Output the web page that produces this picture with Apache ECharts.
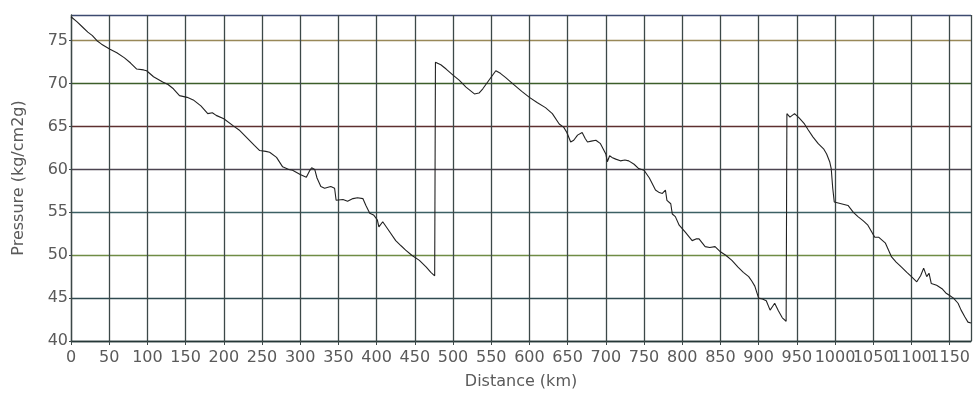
<!DOCTYPE html>
<html>
<head>
<meta charset="utf-8">
<script src="https://cdn.jsdelivr.net/npm/echarts@6/dist/echarts.min.js"></script>
<style>
html,body{margin:0;padding:0;background:#fff;}
#chart{width:973px;height:408px;}
</style>
</head>
<body>
<div id="chart"></div>
<script>
// Distance along pipeline (km)
const distanceKm = [
  0, 8, 15, 22, 28, 34, 40, 51, 60, 70, 78, 86, 95, 99, 108, 120, 127, 134, 142, 152,
  160, 170, 179, 185, 190, 200, 212, 220, 230, 240, 247, 255, 260, 269, 277, 285, 290, 300, 308, 312,
  315, 319, 322, 327, 332, 340, 345, 347, 356, 362, 369, 375, 382, 386, 391, 396, 401, 403, 408, 415,
  425, 432, 438, 446, 456, 465, 471, 476,
  477, 484, 491, 500, 508, 517, 528, 534, 539, 547, 556, 562, 569, 578, 590, 600, 610, 621, 630, 639,
  645, 649, 654, 658, 663, 669, 673, 676, 681, 687, 693, 700, 702, 705, 708, 713, 719, 725, 730, 737,
  743, 750, 757, 765, 770, 774, 778, 780, 785, 787, 791, 796, 800, 804, 813, 818, 822, 830, 836, 843,
  850, 857, 865, 873, 880, 887, 891, 895, 900, 905, 910, 915, 918, 921, 926, 931, 936,
  937, 941, 947, 953, 960, 965, 971, 978, 985, 989, 993, 995, 997, 999, 1008, 1017, 1024, 1030, 1037, 1043,
  1052, 1057, 1066, 1074, 1080, 1087, 1094, 1100, 1107, 1112, 1116, 1120, 1123, 1126, 1133, 1140, 1145, 1150, 1155, 1161,
  1165, 1170, 1174, 1178
];
// Pressure (kg/cm2g)
const pressure = [
  77.8, 77.2, 76.6, 76.0, 75.6, 75.0, 74.6, 74.0, 73.6, 73.0, 72.4, 71.7, 71.6, 71.5, 70.8, 70.2, 69.9, 69.4, 68.6, 68.4,
  68.1, 67.4, 66.5, 66.6, 66.3, 65.9, 65.1, 64.6, 63.7, 62.8, 62.2, 62.1, 62.0, 61.4, 60.3, 60.0, 59.9, 59.4, 59.1, 59.8,
  60.2, 60.0, 59.0, 58.0, 57.8, 58.0, 57.8, 56.4, 56.5, 56.3, 56.6, 56.7, 56.6, 55.8, 54.9, 54.7, 54.1, 53.3, 53.9, 53.0,
  51.7, 51.1, 50.6, 50.0, 49.4, 48.6, 48.0, 47.6,
  72.5, 72.2, 71.7, 71.0, 70.4, 69.6, 68.8, 68.9, 69.4, 70.4, 71.5, 71.2, 70.7, 70.0, 69.1, 68.4, 67.8, 67.2, 66.5, 65.3,
  64.9, 64.3, 63.2, 63.4, 64.0, 64.3, 63.6, 63.2, 63.3, 63.4, 63.0, 61.8, 60.9, 61.6, 61.4, 61.2, 61.0, 61.1, 61.0, 60.6,
  60.1, 59.9, 59.0, 57.6, 57.3, 57.2, 57.6, 56.4, 56.0, 54.8, 54.5, 53.5, 53.1, 52.7, 51.7, 51.9, 51.9, 51.0, 50.9, 51.0,
  50.4, 50.0, 49.4, 48.6, 48.0, 47.5, 47.0, 46.4, 45.0, 44.9, 44.7, 43.6, 44.0, 44.4, 43.5, 42.7, 42.3,
  66.5, 66.1, 66.5, 66.0, 65.3, 64.6, 63.8, 63.0, 62.4, 61.8, 60.9, 60.1, 57.8, 56.2, 56.0, 55.8, 55.0, 54.5, 54.0, 53.5,
  52.1, 52.1, 51.4, 49.8, 49.2, 48.6, 48.0, 47.5, 46.9, 47.6, 48.5, 47.5, 47.9, 46.7, 46.5, 46.1, 45.6, 45.3, 45.0, 44.4,
  43.6, 42.8, 42.2, 42.1
];
const xAxisTitle = 'Distance (km)';
const yAxisTitle = 'Pressure (kg/cm2g)';

const seriesData = distanceKm.map((d, i) => [d, pressure[i]]);
const FONT = 'DejaVu Sans';

const chart = echarts.init(document.getElementById('chart'), null, {renderer: 'canvas'});
chart.setOption({
  animation: false,
  backgroundColor: '#ffffff',
  grid: {left: 71, right: 0, top: 15, bottom: 67, containLabel: false},
  xAxis: {
    type: 'value',
    min: 0, max: 1178, interval: 50,
    name: xAxisTitle, nameLocation: 'middle', nameGap: 33,
    nameTextStyle: {color: '#5a5a5a', fontFamily: FONT, fontSize: 16},
    axisLine: {show: true, lineStyle: {color: '#263838', width: 1.3}},
    axisTick: {show: true, length: 4, lineStyle: {color: '#3c4848'}},
    axisLabel: {
      color: '#5a5a5a', fontFamily: FONT, fontSize: 16, margin: 9,
      showMaxLabel: false,
      formatter: v => (v % 50 === 0 ? String(v) : '')
    },
    splitLine: {show: true, lineStyle: {color: '#3c4848', width: 1.3}}
  },
  yAxis: {
    type: 'value',
    min: 40, max: 78, interval: 5,
    name: yAxisTitle, nameLocation: 'middle', nameGap: 44, nameRotate: 90,
    nameTextStyle: {color: '#5a5a5a', fontFamily: FONT, fontSize: 16},
    axisLine: {show: true, lineStyle: {color: '#3c4848', width: 1.3}},
    axisTick: {show: true, length: 2, lineStyle: {color: '#3c4848'}},
    axisLabel: {
      color: '#5a5a5a', fontFamily: FONT, fontSize: 16, margin: 3,
      showMaxLabel: false,
      formatter: v => (v % 5 === 0 ? String(v) : '')
    },
    splitLine: {
      show: true,
      lineStyle: {
        width: 1.3,
        color: ['#263838', '#2f4a50', '#6f8c45', '#3c6064', '#4c4450', '#5e3030', '#3c5e2a', '#988858', '#3c4a70']
      }
    }
  },
  series: [{
    type: 'line',
    data: seriesData,
    showSymbol: false,
    symbol: 'none',
    lineStyle: {color: '#222', width: 1.1},
    z: 5
  }]
});
</script>
</body>
</html>
